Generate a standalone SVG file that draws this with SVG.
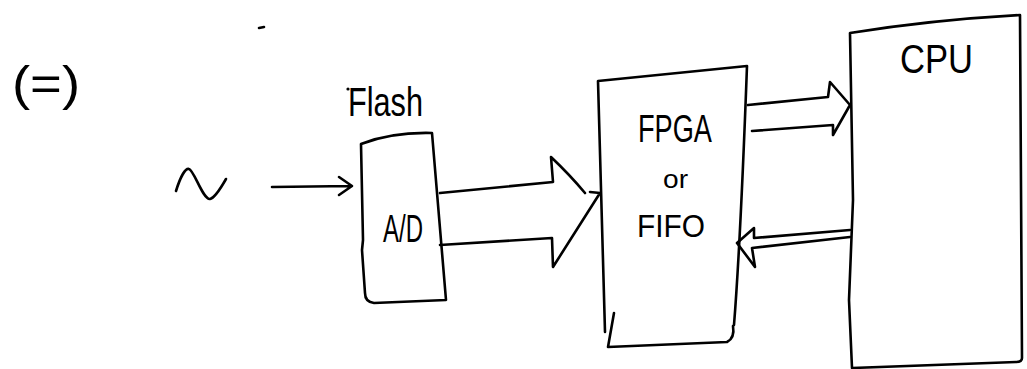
<svg xmlns="http://www.w3.org/2000/svg" width="1027" height="369" viewBox="0 0 1027 369">
<style>
.ink{fill:none;stroke:#000;stroke-width:2.6;stroke-linecap:round;stroke-linejoin:round}
.t{font-family:"Liberation Sans",Arial,sans-serif;fill:#000}
</style>
<rect width="1027" height="369" fill="#fff"/>
<g id="marks">
<path class="ink" d="M259,28 L264,27" stroke-width="2"/>
<circle cx="348" cy="89" r="1.6" fill="#000"/>
</g>
<g id="title">
<text class="t" x="12" y="100" font-size="48" textLength="68" lengthAdjust="spacingAndGlyphs">(=)</text>
</g>
<g id="source">
<path class="ink" d="M176,191 C180,178 185,168 189,169 C194,170 203,200 210,199 C215,198 222,186 226,179"/>
</g>
<g id="adc">
<path class="ink" d="M361,144 Q392,132 432,133 L446,300 L374,303 Q365,302 365,293 L362,250 L363,240 Z"/>
<text class="t" x="348" y="116" font-size="40" textLength="75" lengthAdjust="spacingAndGlyphs">Flash</text>
<text class="t" x="383" y="242" font-size="38" textLength="40" lengthAdjust="spacingAndGlyphs">A/D</text>
</g>
<g id="fpga">
<path class="ink" d="M605,332 L598,81 L747,66 C745,120 740,250 734,325"/>
<path class="ink" d="M614,313 L608,347 L727,342 Q735,338 733,326"/>
<text class="t" x="638" y="142" font-size="38" textLength="74" lengthAdjust="spacingAndGlyphs">FPGA</text>
<text class="t" x="663" y="188" font-size="26" textLength="25" lengthAdjust="spacingAndGlyphs">or</text>
<text class="t" x="637" y="237" font-size="31" textLength="68" lengthAdjust="spacingAndGlyphs">FIFO</text>
</g>
<g id="cpu">
<path class="ink" d="M850,33 Q930,20 1020,15 L1022,358 Q1022,362 1016,362 L852,368 L849,300 L853,200 Z"/>
<text class="t" x="900" y="73" font-size="40" textLength="73" lengthAdjust="spacingAndGlyphs">CPU</text>
</g>
<g id="connectors">
<path class="ink" d="M272,187 L351,186 M339,177 L352,186 L339,195"/>
<path class="ink" d="M440,193 L553,182 L551,157 Q570,175 585,193 M590,192 L600,193 L553,267 L552,238 L440,245"/>
<path class="ink" d="M748,105 L828,97 L830,82 L850,105 L833,135 L833,125 L752,131"/>
<path class="ink" d="M850,230 L754,238 L754,228 L737,243 L755,267 L752,248 L850,237"/>
</g>
</svg>
